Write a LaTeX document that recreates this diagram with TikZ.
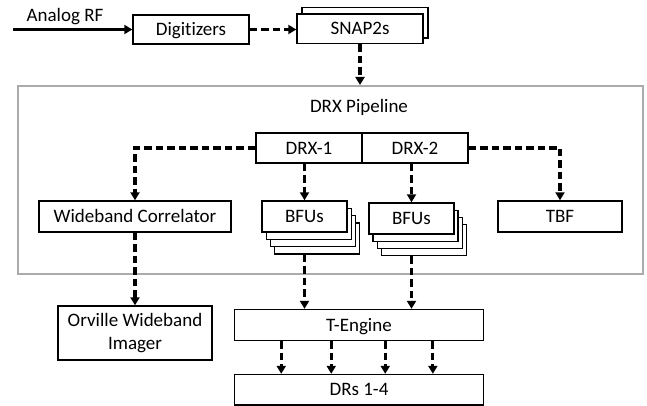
\documentclass[tikz,border=0pt]{standalone}
\usepackage{fontspec}
\setmainfont[Ligatures=NoCommon]{Carlito}
\usetikzlibrary{arrows.meta,calc}

\tikzset{
  blk/.style={draw=black, line width=1.4pt, fill=white, inner sep=0pt,
              font=\fontsize{19}{22.7}\selectfont},
  oneline/.style={text height=12.2pt, text depth=0pt},
  flow/.style={line width=3.2pt, dash pattern=on 7.5pt off 4pt,
               -{Triangle[length=8pt,width=9pt]}},
  feed/.style={line width=3pt, -{Triangle[length=8pt,width=9pt]}},
  frame/.style={draw=black!33, line width=2pt, inner sep=0pt},
  lbl/.style={inner sep=0pt, font=\fontsize{19}{22.7}\selectfont, oneline},
}

\begin{document}
\begin{tikzpicture}[x=1pt, y=-1pt]
  \useasboundingbox (0,0) rectangle (647,406);

  % pipeline frame and its title
  \node[frame, minimum width=625pt, minimum height=188pt] (pipe) at (330.5,180) {};
  \node[lbl] (pipetitle) at (359,106) {DRX Pipeline};

  % input stage
  \node[lbl] (rflabel) at (65,15) {Analog RF};
  \coordinate (rfin) at (13,29.5);
  \node[blk, oneline, minimum width=116pt, minimum height=29pt] (digi) at (191,29.5) {Digitizers};
  \node[blk, minimum width=126pt, minimum height=30.7pt] (snapback) at (365,22.7) {};
  \node[blk, oneline, minimum width=126pt, minimum height=29.3pt] (snap) at (360,28.7) {SNAP2s};

  % DRX pair
  \node[blk, oneline, minimum width=106pt, minimum height=30pt] (drxa) at (309,148) {DRX-1};
  \node[blk, oneline, minimum width=106pt, minimum height=30pt] (drxb) at (415,148) {DRX-2};

  % outputs of the DRX pair
  \node[blk, oneline, minimum width=192pt, minimum height=31pt] (wc) at (135,216.5) {Wideband Correlator};
  \node[blk, oneline, minimum width=124pt, minimum height=31pt] (tbf) at (560,216.5) {TBF};

  % stacked beamformer units
  \foreach \k in {3,2,1} {
    \node[blk, minimum width=85pt, minimum height=31pt] (bfua\k) at (304.5+4.2*\k, 216.5+7.3*\k) {};
    \node[blk, minimum width=85pt, minimum height=31pt] (bfub\k) at (411.5+4.1*\k, 218.5+7.2*\k) {};
  }
  \node[blk, oneline, minimum width=85pt, minimum height=31pt] (bfua) at (304.5,216.5) {BFUs};
  \node[blk, oneline, minimum width=85pt, minimum height=31pt] (bfub) at (411.5,218.5) {BFUs};

  % downstream stages
  \node[blk, align=center, minimum width=154pt, minimum height=54pt] (orv) at (135,333) {Orville Wideband\\Imager};
  \node[blk, oneline, minimum width=249.5pt, minimum height=31pt] (teng) at (359,325) {T-Engine};
  \node[blk, oneline, minimum width=249.5pt, minimum height=30.5pt] (drs) at (359,389.75) {DRs 1-4};

  % connectors
  \draw[feed] (rfin) -- (digi.west);
  \draw[flow] (digi.east) -- (digi.east -| snap.west);
  \draw[flow] (snap.south) -- (snap.south |- pipe.north);
  \draw[flow] (drxa.west) -| (wc.north);
  \draw[flow] (drxb.east) -| (tbf.north);
  \draw[flow] (bfua.north |- drxa.south) -- (bfua.north);
  \draw[flow] (bfub.north |- drxb.south) -- (bfub.north);
  \draw[flow] (wc.south) -- (orv.north);
  \draw[flow] (bfua.south |- bfua3.south) -- (bfua.south |- teng.north);
  \draw[flow] (bfub.south |- bfub3.south) -- (bfub.south |- teng.north);
  \foreach \dx in {47.7,97.7,151.7,199.3}
    \draw[flow] ([xshift=\dx pt]teng.south west) -- ([xshift=\dx pt]drs.north west);
\end{tikzpicture}
\end{document}
